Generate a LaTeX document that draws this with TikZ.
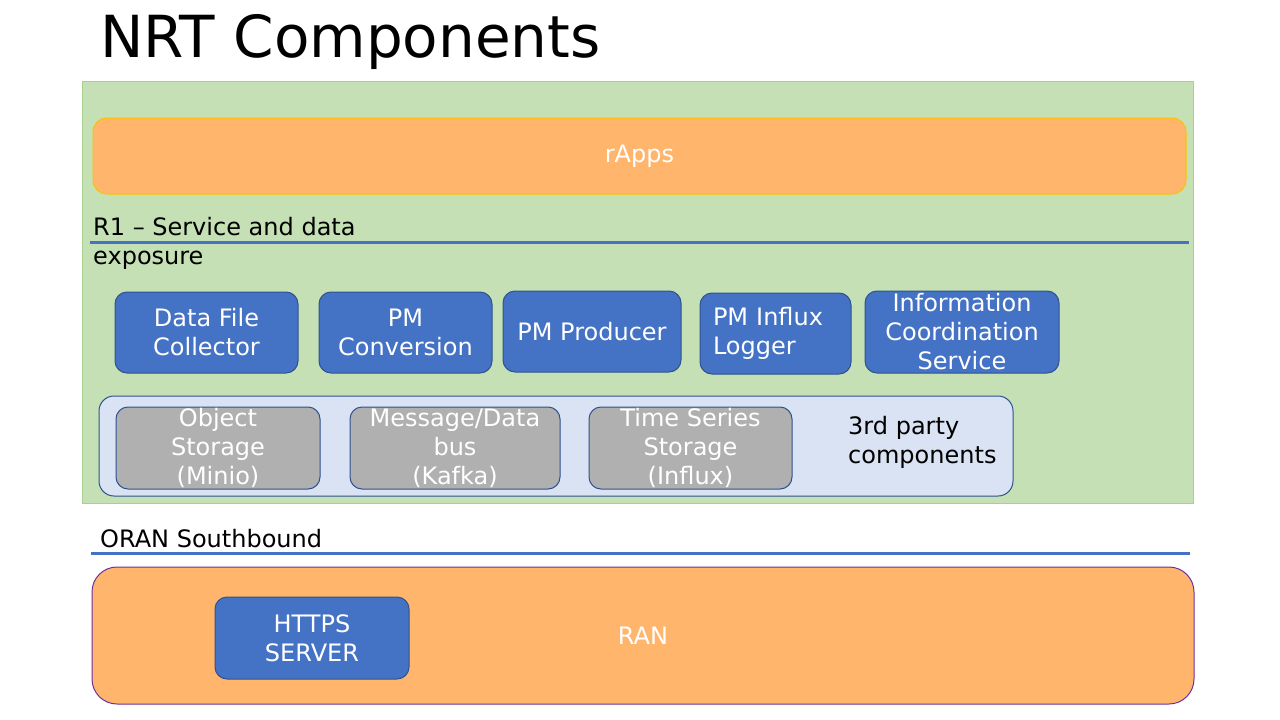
\documentclass[tikz,border=0pt]{standalone}
\usepackage{fontspec}
\setmainfont{DejaVu Sans}
\usepackage{xcolor}
\usepackage{tikz}

\definecolor{orangefill}{HTML}{FFB56B}
\definecolor{goldline}{HTML}{FFC000}
\definecolor{greenfill}{HTML}{C5E0B4}
\definecolor{greenline}{HTML}{A9D18E}
\definecolor{bluefill}{HTML}{4472C4}
\definecolor{blueline}{HTML}{2F528F}
\definecolor{paleblue}{HTML}{DAE3F3}
\definecolor{grayfill}{HTML}{B0B0B0}
\definecolor{purpleline}{HTML}{7030A0}

\tikzset{
	txt/.style={font=\fontsize{24}{29}\selectfont},
	bluebox/.style={txt,draw=blueline,fill=bluefill,text=white,rounded corners=12pt,line width=1pt,align=center,inner sep=0pt},
	graybox/.style={txt,draw=blueline,fill=grayfill,text=white,rounded corners=12pt,line width=1pt,align=center,inner sep=0pt,minimum height=82pt},
	sepline/.style={draw=bluefill,line width=3pt}
}

\begin{document}
\begin{tikzpicture}[x=1pt,y=-1pt]
	\useasboundingbox[fill=white] (0,0) rectangle (1280,720);

	% title
	\node[anchor=base west,inner sep=0pt,font=\fontsize{58}{70}\selectfont] (title) at (100,57) {NRT Components};

	% NRT area
	\node[draw=greenline,fill=greenfill,line width=1pt,minimum width=1111pt,minimum height=422pt,inner sep=0pt] (nrt) at (637.5,292) {};
	\node[txt,draw=goldline,fill=orangefill,text=white,line width=1pt,rounded corners=14pt,minimum width=1093pt,minimum height=76pt] (rapps) at (639.5,156) {rApps};

	\node[txt,anchor=north west,align=left,inner sep=0pt] (r1) at (93,217) {R1 -- Service and data\\exposure};
	\draw[sepline] (90,242) -- (1189,242);

	\begin{scope}[every node/.style={bluebox,minimum height=81pt}]
		\node[minimum width=183pt] (dfc) at (206.5,332.5) {Data File\\Collector};
		\node[minimum width=173pt] (pmc) at (405.5,332.5) {PM\\Conversion};
		\node[minimum width=178pt] (pmp) at (592,331.5) {PM Producer};
		\node[minimum width=151pt,text width=125pt,align=left,inner xsep=13pt] (pmi) at (775.5,333.5) {PM Influx\\Logger};
		\node[minimum width=194pt,minimum height=82pt] (ics) at (962,332) {Information\\Coordination\\Service};
	\end{scope}

	% 3rd party components
	\node[draw=blueline,fill=paleblue,line width=1pt,rounded corners=15pt,minimum width=914pt,minimum height=100pt,inner sep=0pt] (third) at (556,446) {};
	\begin{scope}[every node/.style={graybox}]
		\node[minimum width=204pt] (minio) at (218,448) {Object\\Storage\\(Minio)};
		\node[minimum width=210pt] (kafka) at (455,448) {Message/Data\\bus\\(Kafka)};
		\node[minimum width=203pt] (influx) at (690.5,448) {Time Series\\Storage\\(Influx)};
	\end{scope}
	\node[txt,anchor=west,align=left,inner sep=0pt] (thirdlbl) at (848,442) {3rd party\\components};

	% southbound
	\node[txt,anchor=base west,inner sep=0pt] (oran) at (100,547) {ORAN Southbound};
	\draw[sepline] (91,553) -- (1190,553);

	\node[txt,draw=purpleline,fill=orangefill,text=white,line width=1pt,rounded corners=25pt,minimum width=1102pt,minimum height=137pt] (ran) at (643,635.5) {RAN};
	\node[bluebox,minimum width=194pt,minimum height=82pt] (https) at (312,638) {HTTPS\\SERVER};
\end{tikzpicture}
\end{document}
